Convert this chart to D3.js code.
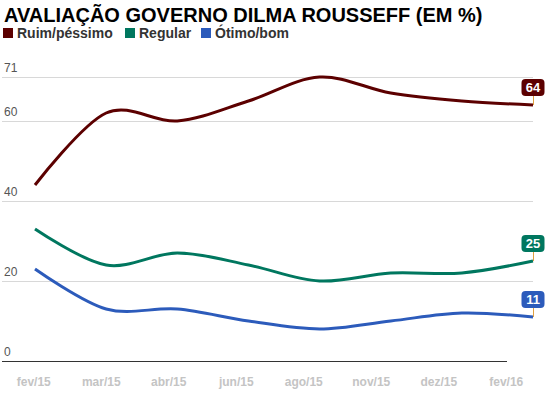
<!DOCTYPE html>
<html>
<head>
<meta charset="utf-8">
<script src="https://cdn.jsdelivr.net/npm/d3@7"></script>
<style>
  body { margin: 0; background: #fff; }
  svg { display: block; font-family: "Liberation Sans", Arial, sans-serif; }
</style>
</head>
<body>
<div id="wrapper"></div>
<script>
const months = ["fev/15", "mar/15", "abr/15", "jun/15", "ago/15", "nov/15", "dez/15", "fev/16"]
const ruim = [44, 62, 60, 65, 71, 67, 65, 64]
const regular = [33, 24, 27, 24, 20, 22, 22, 25]
const otimo = [23, 13, 13, 10, 8, 10, 12, 11]
const yTicks = [0, 20, 40, 60, 71]

const seriesNames = ["Ruim/péssimo", "Regular", "Ótimo/bom"]
const seriesColors = ["#5c0000", "#00775f", "#2c5bbb"]

function drawChart() {
  const width = 550
  const height = 393

  const series = [ruim, regular, otimo].map((values, i) => ({
    name: seriesNames[i],
    color: seriesColors[i],
    values: values.map((v, j) => ({ month: months[j], value: v })),
  }))

  const svg = d3.select("#wrapper")
    .append("svg")
    .attr("width", width)
    .attr("height", height)

  // title
  svg.append("text")
    .attr("x", 4)
    .attr("y", 22)
    .style("font-size", "20px")
    .style("font-weight", "bold")
    .style("fill", "#000")
    .text("AVALIAÇÃO GOVERNO DILMA ROUSSEFF (EM %)")

  // legend
  const legendX = [3, 125, 201]
  const legend = svg.append("g")
  series.forEach((s, i) => {
    legend.append("rect")
      .attr("x", legendX[i])
      .attr("y", 28)
      .attr("width", 10)
      .attr("height", 10)
      .attr("fill", s.color)
    legend.append("text")
      .attr("x", legendX[i] + 14)
      .attr("y", 38)
      .style("font-size", "14px")
      .style("font-weight", "bold")
      .style("fill", "#333")
      .text(s.name)
  })

  const yScale = d3.scaleLinear()
    .domain([0, 71])
    .range([361, 77])

  const xScale = d3.scalePoint()
    .domain(months)
    .range([35, 533])

  const labelScale = d3.scaleBand()
    .domain(months)
    .range([0, 540])

  // gridlines + y labels
  const grid = svg.append("g")
  grid.selectAll("line")
    .data(yTicks.filter(d => d > 0))
    .join("line")
    .attr("x1", 2)
    .attr("x2", 533)
    .attr("y1", d => yScale(d) + 0.5)
    .attr("y2", d => yScale(d) + 0.5)
    .attr("stroke", "#d8d8d8")
    .attr("stroke-width", 1)

  grid.append("line")
    .attr("x1", 2)
    .attr("x2", 507)
    .attr("y1", yScale(0) + 0.5)
    .attr("y2", yScale(0) + 0.5)
    .attr("stroke", "#333")
    .attr("stroke-width", 1)

  grid.selectAll("text")
    .data(yTicks)
    .join("text")
    .attr("x", 4)
    .attr("y", d => yScale(d) - 5)
    .style("font-size", "12px")
    .style("fill", "#555")
    .text(d => d)

  // x labels
  svg.append("g")
    .selectAll("text")
    .data(months)
    .join("text")
    .attr("x", d => labelScale(d) + labelScale.bandwidth() / 2)
    .attr("y", 386)
    .attr("text-anchor", "middle")
    .style("font-size", "12px")
    .style("font-weight", "bold")
    .style("fill", "#c4c4c4")
    .text(d => d)

  const lineGenerator = d3.line()
    .x(d => xScale(d.month))
    .y(d => yScale(d.value))
    .curve(d3.curveCardinal.tension(0))

  svg.append("g")
    .selectAll("path")
    .data(series)
    .join("path")
    .attr("d", d => lineGenerator(d.values))
    .attr("fill", "none")
    .attr("stroke", d => d.color)
    .attr("stroke-width", 3)

  // end labels
  const labels = svg.append("g")
  series.forEach(s => {
    const last = s.values[s.values.length - 1]
    const px = xScale(last.month)
    const py = yScale(last.value)
    const boxBottom = py - 9
    labels.append("line")
      .attr("x1", px + 0.5)
      .attr("x2", px + 0.5)
      .attr("y1", boxBottom)
      .attr("y2", py)
      .attr("stroke", "#e0a040")
      .attr("stroke-width", 1)
    labels.append("rect")
      .attr("x", px - 11.5)
      .attr("y", boxBottom - 17)
      .attr("width", 23)
      .attr("height", 17)
      .attr("rx", 4)
      .attr("fill", s.color)
    labels.append("text")
      .attr("x", px)
      .attr("y", boxBottom - 4)
      .attr("text-anchor", "middle")
      .style("font-size", "13px")
      .style("font-weight", "bold")
      .style("fill", "#fff")
      .text(last.value)
  })
}
drawChart()
</script>
</body>
</html>
